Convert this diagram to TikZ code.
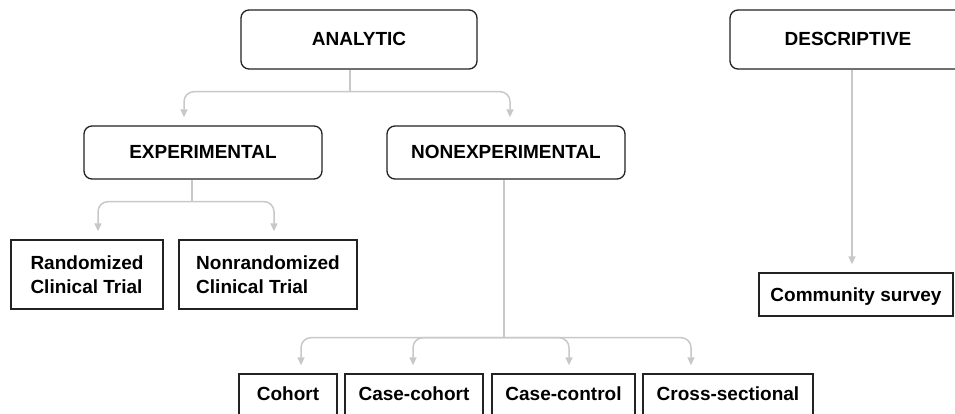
\documentclass[tikz,border=0pt]{standalone}
\usepackage{fontspec}
\setmainfont{Liberation Sans}
\usetikzlibrary{arrows.meta}
\definecolor{boxline}{HTML}{222222}
\definecolor{connline}{HTML}{C8C8C8}
\tikzset{
  cat/.style={draw=boxline, line width=1.3pt, rounded corners=8pt, inner sep=0pt,
    font=\bfseries\fontsize{19}{24}\selectfont, text height=13pt, text depth=0pt,
    minimum height=#1},
  kind/.style={draw=boxline, line width=1.3pt, inner sep=0pt, align=left,
    font=\bfseries\fontsize{19}{24}\selectfont},
  leaf/.style={draw=boxline, line width=1.3pt, inner xsep=0pt, inner ysep=13pt,
    font=\bfseries\fontsize{19}{24}\selectfont, text height=13pt, text depth=12pt,
    anchor=base},
  conn/.style={draw=connline, line width=1.5pt, rounded corners=10pt},
  connarrow/.style={conn, -{Triangle[width=7pt,length=8pt]}, shorten >=8pt},
}
\begin{document}
\begin{tikzpicture}[x=1pt,y=-1pt]
\useasboundingbox (0,0) rectangle (955,414);
\clip (0,0) rectangle (955,414);

% top level
\node[cat=59pt, minimum width=236pt] (an) at (359,39.5) {ANALYTIC};
\node[cat=59pt, minimum width=236pt] (de) at (848,39.5) {DESCRIPTIVE};

% second level
\node[cat=53pt, minimum width=238pt] (ex) at (203,152.5) {EXPERIMENTAL};
\node[cat=53pt, minimum width=238pt] (ne) at (506,152.5) {NONEXPERIMENTAL};

% experimental studies
\node[kind, minimum width=152pt, minimum height=69pt] (rct) at (87,274.5) {Randomized\\Clinical Trial};
\node[kind, minimum width=178pt, minimum height=69pt] (nrct) at (268,274.5) {Nonrandomized\\Clinical Trial};

% nonexperimental studies
\node[leaf, minimum width=98pt] (co) at (288,400) {Cohort};
\node[leaf, minimum width=138pt] (cc) at (414,400) {Case-cohort};
\node[leaf, minimum width=143pt] (cctl) at (563.5,400) {Case-control};
\node[leaf, minimum width=170pt] (xs) at (728,400) {Cross-sectional};

% descriptive
\node[kind, minimum width=194pt, minimum height=43pt, text height=13pt, text depth=0pt] (cs) at (856,294.5) {Community survey};

% junctions
\coordinate (j1) at ([xshift=-9pt,yshift=-22pt]an.south);
\coordinate (j2) at ([xshift=-11pt,yshift=-22pt]ex.south);
\coordinate (j3) at ([xshift=-2pt,yshift=-158pt]ne.south);

% connectors
\draw[conn] ([xshift=-9pt]an.south) -- (j1);
\draw[connarrow] (j1) -| ([xshift=-19pt]ex.north);
\draw[connarrow] (j1) -| ([xshift=4pt]ne.north);

\draw[conn] ([xshift=-11pt]ex.south) -- (j2);
\draw[connarrow] (j2) -| ([xshift=11pt]rct.north);
\draw[connarrow] (j2) -| ([xshift=6pt]nrct.north);

\draw[conn] ([xshift=-2pt]ne.south) -- (j3);
\draw[connarrow] (j3) -| ([xshift=13pt]co.north);
\draw[connarrow] (j3) -| ([xshift=-1pt]cc.north);
\draw[connarrow] (j3) -| ([xshift=5.5pt]cctl.north);
\draw[connarrow] (j3) -| ([xshift=-37pt]xs.north);

\draw[connarrow] ([xshift=4pt]de.south) -- ([xshift=-4pt]cs.north);
\end{tikzpicture}
\end{document}
